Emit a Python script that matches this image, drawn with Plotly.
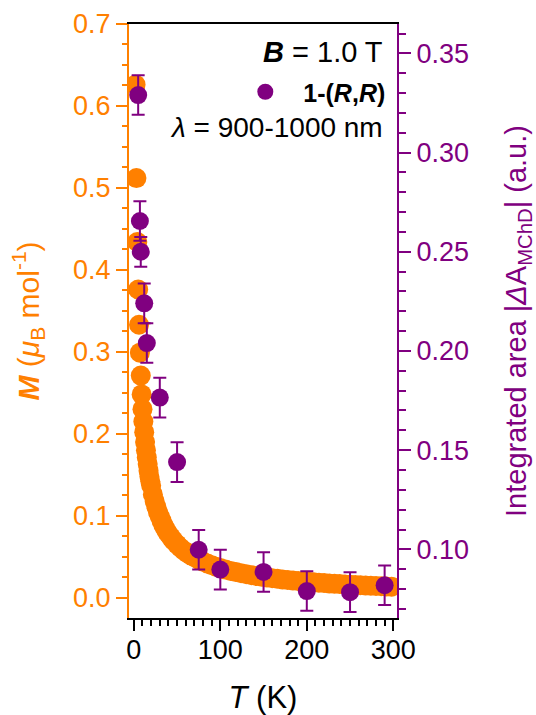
import plotly.graph_objects as go

# magnetisation M(T) at B = 1.0 T (left axis)
temp_m = [2, 3, 4, 5, 6, 7, 8, 9, 10, 11, 12, 13, 14, 15, 16, 17, 18, 19, 20,
          22, 24, 26, 28, 30, 32, 34, 36, 38, 40, 43, 46, 50, 54, 58, 62, 66,
          70, 75, 80, 85, 90, 95, 100, 106, 112, 118, 124, 130, 136, 142, 148,
          154, 160, 166, 172, 178, 184, 190, 196, 202, 208, 214, 220, 226, 232,
          238, 244, 250, 256, 262, 268, 274, 280, 286, 292, 298]
mag = [0.626, 0.512, 0.434, 0.376, 0.333, 0.299, 0.271, 0.248, 0.230, 0.215,
       0.202, 0.190, 0.180, 0.171, 0.163, 0.155, 0.148, 0.142, 0.137,
       0.126, 0.118, 0.111, 0.104, 0.099, 0.094, 0.089, 0.085, 0.081, 0.078,
       0.0735, 0.0696, 0.065, 0.0609, 0.0574, 0.0544, 0.0517, 0.0493, 0.0464,
       0.044, 0.0417, 0.0397, 0.0378, 0.0362, 0.0343, 0.0327, 0.0312, 0.0298,
       0.0286, 0.0275, 0.0265, 0.0255, 0.0247, 0.0238, 0.0231, 0.0223, 0.0216,
       0.0210, 0.0204, 0.0198, 0.0193, 0.0188, 0.0183, 0.0178, 0.0174, 0.0169,
       0.0166, 0.0162, 0.0158, 0.0154, 0.0151, 0.0148, 0.0145, 0.0142, 0.0139,
       0.0137, 0.0134]

# integrated MChD area, 1-(R,R) (right axis)
temp_a = [5, 7, 8, 12, 15, 30, 50, 75, 100, 150, 200, 250, 290]
area = [0.329, 0.2655, 0.250, 0.224, 0.204, 0.1765, 0.144, 0.0998, 0.0898,
        0.0886, 0.079, 0.0784, 0.0819]
area_err = [0.010, 0.010, 0.0075, 0.010, 0.010, 0.010, 0.010, 0.010, 0.010,
            0.010, 0.010, 0.010, 0.010]

ORANGE = '#FF8000'
PURPLE = '#800080'
FONT = 'Liberation Sans, Arial, sans-serif'

fig = go.Figure()

fig.add_trace(go.Scatter(
    x=temp_m, y=mag, mode='markers', showlegend=False,
    marker=dict(color=ORANGE, size=20, line=dict(width=0)),
))

fig.add_trace(go.Scatter(
    x=temp_a, y=area, yaxis='y2', mode='markers',
    name='<b>1-(<i>R</i>,<i>R</i>)</b>',
    marker=dict(color=PURPLE, size=18, line=dict(width=0)),
    error_y=dict(type='data', array=area_err, color=PURPLE,
                 thickness=2, width=6.5),
))

fig.update_layout(
    width=536, height=715,
    margin=dict(l=129, r=139, t=24, b=97, autoexpand=False),
    paper_bgcolor='white', plot_bgcolor='white',
    font=dict(family=FONT, size=27, color='black'),
    legend=dict(x=0.975, y=(618 - 92) / 594, xanchor='right', yanchor='middle',
                bgcolor='rgba(0,0,0,0)', font=dict(size=25),
                itemsizing='trace', itemwidth=66),
    xaxis=dict(
        range=[-5.6, 304.3], showgrid=False, zeroline=False, automargin=False,
        showline=True, linecolor='black', linewidth=2, mirror=True,
        ticks='outside', tickcolor='black', tickwidth=2, ticklen=11,
        tickvals=[0, 100, 200, 300], ticklabelstandoff=-4,
        minor=dict(dtick=10, tick0=0, ticks='outside', ticklen=6,
                   tickcolor='black', tickwidth=2),
        title=dict(text='<i>T</i> (K)', font=dict(size=31), standoff=22),
    ),
    yaxis=dict(
        range=[-0.0248, 0.7], showgrid=False, zeroline=False, automargin=False,
        showline=True, linecolor=ORANGE, linewidth=2,
        ticks='outside', tickcolor=ORANGE, tickwidth=2, ticklen=11,
        dtick=0.1, tick0=0, tickformat='.1f',
        tickfont=dict(color=ORANGE),
        minor=dict(dtick=0.025, tick0=0, ticks='outside', ticklen=5,
                   tickcolor=ORANGE, tickwidth=2),
        title=dict(text='<b><i>M</i></b> (<i>μ</i><sub>B</sub> mol<sup>-1</sup>)',
                   font=dict(size=30, color=ORANGE), standoff=25),
    ),
    yaxis2=dict(
        overlaying='y', side='right', automargin=False,
        range=[0.0654, 0.3648], showgrid=False, zeroline=False,
        showline=True, linecolor=PURPLE, linewidth=2,
        ticks='outside', tickcolor=PURPLE, tickwidth=2, ticklen=12,
        dtick=0.05, tick0=0, tickformat='.2f',
        tickfont=dict(color=PURPLE),
        minor=dict(dtick=0.01, tick0=0, ticks='outside', ticklen=7,
                   tickcolor=PURPLE, tickwidth=2),
        title=dict(text='Integrated area |<i>Δ</i>A<sub>MChD</sub>| (a.u.)',
                   font=dict(size=29, color=PURPLE), standoff=44),
    ),
    annotations=[
        dict(text='<b><i>B</i></b> = 1.0 T', xref='paper', yref='paper',
             x=0.955, y=(618 - 52) / 594, xanchor='right', yanchor='middle',
             showarrow=False, font=dict(size=29)),
        dict(text='<i>λ</i> = 900-1000 nm', xref='paper', yref='paper',
             x=0.955, y=(618 - 127) / 594, xanchor='right', yanchor='middle',
             showarrow=False, font=dict(size=28)),
    ],
)

# drop the default 8px page margin so the figure fills the window exactly
fig.write_html("out.html", config={'displayModeBar': False},
               post_script="document.body.style.margin = '0';")
